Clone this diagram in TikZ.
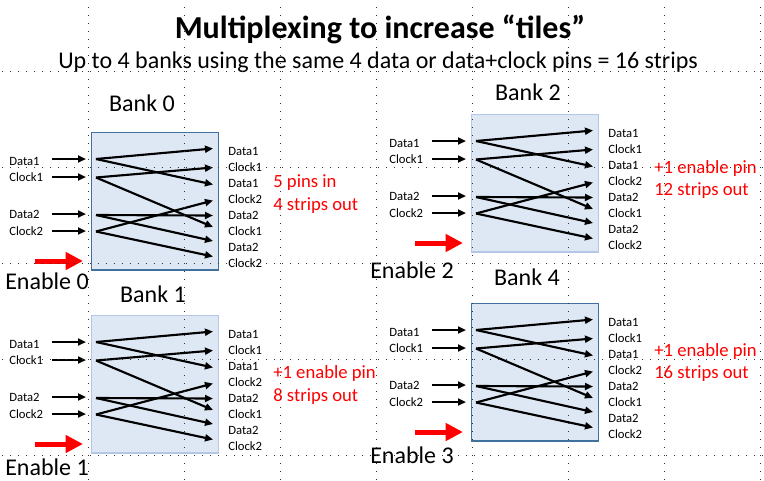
\documentclass[tikz,border=0pt]{standalone}
\usepackage{fontspec}
\setmainfont{Carlito}
\usetikzlibrary{arrows.meta}
\definecolor{boxfill}{HTML}{DEE8F4}
\definecolor{darkedge}{HTML}{41719C}
\definecolor{lightedge}{HTML}{B4C7E7}
\definecolor{redtxt}{HTML}{FF0000}

\newcommand\bankdiagram[4]{%
  \node[bankbox, draw=#4, anchor=north west] (#1box) at (#2,#3) {};
  \foreach \n/\dy/\t in {1/33/Data1, 2/49/Clock1, 3/86/Data2, 4/103/Clock2} {
    \node[lbl] (#1in\n) at ({#2-82},{#3+\dy}) {\t};
  }
  \foreach \n/\dy in {1/27, 2/45, 3/82, 4/99} {
    \coordinate (#1a\n) at ({#2-39},{#3+\dy});
    \coordinate (#1b\n) at ({#2-5},{#3+\dy});
    \draw[wire] (#1a\n) -- (#1b\n);
  }
  \foreach \n/\dy in {1/27, 2/45.5, 3/83, 4/99.5} {
    \coordinate (#1s\n) at ({#2+5},{#3+\dy});
  }
  \foreach \n/\dy in {1/16.5, 2/35.5, 3/52.5, 4/68.5, 5/83.5, 6/95, 7/109, 8/124.5} {
    \coordinate (#1t\n) at ({#2+122},{#3+\dy});
  }
  \foreach \t [count=\k] in {Data1, Clock1, Data1, Clock2, Data2, Clock1, Data2, Clock2} {
    \node[lbl] (#1out\k) at ({#2+137},{#3+23+16*(\k-1)}) {\t};
  }
  \foreach \p/\q in {1/1, 1/3, 2/2, 2/6, 3/5, 3/7, 4/4, 4/8} {
    \draw[wire] (#1s\p) -- (#1t\q);
  }
  \coordinate (#1e0) at ({#2-56},{#3+129});
  \coordinate (#1e1) at ({#2-8},{#3+129});
  \draw[enarrow] (#1e0) -- (#1e1);
}

\begin{document}
\begin{tikzpicture}[x=0.75pt,y=-0.75pt,
  lbl/.style={anchor=base west, inner sep=0pt, font=\fontsize{9.5}{11}\selectfont},
  big/.style={anchor=base, inner sep=0pt, font=\fontsize{18}{21}\selectfont},
  bigw/.style={anchor=base west, inner sep=0pt, font=\fontsize{18}{21}\selectfont},
  redt/.style={anchor=base west, inner sep=0pt, text=redtxt, font=\fontsize{14}{17}\selectfont},
  wire/.style={line width=1.6pt, -{Triangle[length=6pt,width=5.25pt]}},
  enarrow/.style={draw=redtxt, line width=3.75pt, -{Triangle[length=13pt,width=12.75pt]}},
  guide/.style={line width=0.75pt, dash pattern=on 0.75pt off 5.25pt, black!80},
  bankbox/.style={fill=boxfill, line width=0.8pt, inner sep=0pt,
    minimum width=95.25pt, minimum height=103.1pt}
]
\useasboundingbox (0,0) rectangle (764,480);
\fill[white] (0,0) rectangle (764,480);

% title
\node[anchor=base, inner sep=0pt, font=\fontsize{24}{28}\selectfont\bfseries] (title) at (380,38) {Multiplexing to increase “tiles”};
\node[big] (subtitle) at (378,68) {Up to 4 banks using the same 4 data or data+clock pins = 16 strips};

% banks
\bankdiagram{bA}{91}{132}{darkedge}
\bankdiagram{bB}{91}{315}{lightedge}
\bankdiagram{bC}{471}{114}{lightedge}
\bankdiagram{bD}{471}{303}{darkedge}

% bank titles
\node[big] (bankA) at (142,111.5) {Bank 0};
\node[big] (bankB) at (153,302.5) {Bank 1};
\node[big] (bankC) at (528,100.5) {Bank 2};
\node[big] (bankD) at (527,285.5) {Bank 4};

% enable labels
\node[bigw] (enA) at (5,289.5) {Enable 0};
\node[bigw] (enB) at (5,475) {Enable 1};
\node[bigw] (enC) at (370,278.5) {Enable 2};
\node[bigw] (enD) at (370,463.5) {Enable 3};

% red notes
\node[redt] (nA1) at (273,187) {5 pins in};
\node[redt] (nA2) at (273,210) {4 strips out};
\node[redt] (nB1) at (273,378) {+1 enable pin};
\node[redt] (nB2) at (273,401) {8 strips out};
\node[redt] (nC1) at (654,173) {+1 enable pin};
\node[redt] (nC2) at (654,195) {12 strips out};
\node[redt] (nD1) at (654,356) {+1 enable pin};
\node[redt] (nD2) at (654,378) {16 strips out};

% guides
\foreach \gx in {88,184,280,376,472,568,664,760} {
  \draw[guide] (\gx,7) -- (\gx,480);
}
\foreach \gy in {71,167,263,359,455} {
  \draw[guide] (2,\gy) -- (764,\gy);
}
\end{tikzpicture}
\end{document}
